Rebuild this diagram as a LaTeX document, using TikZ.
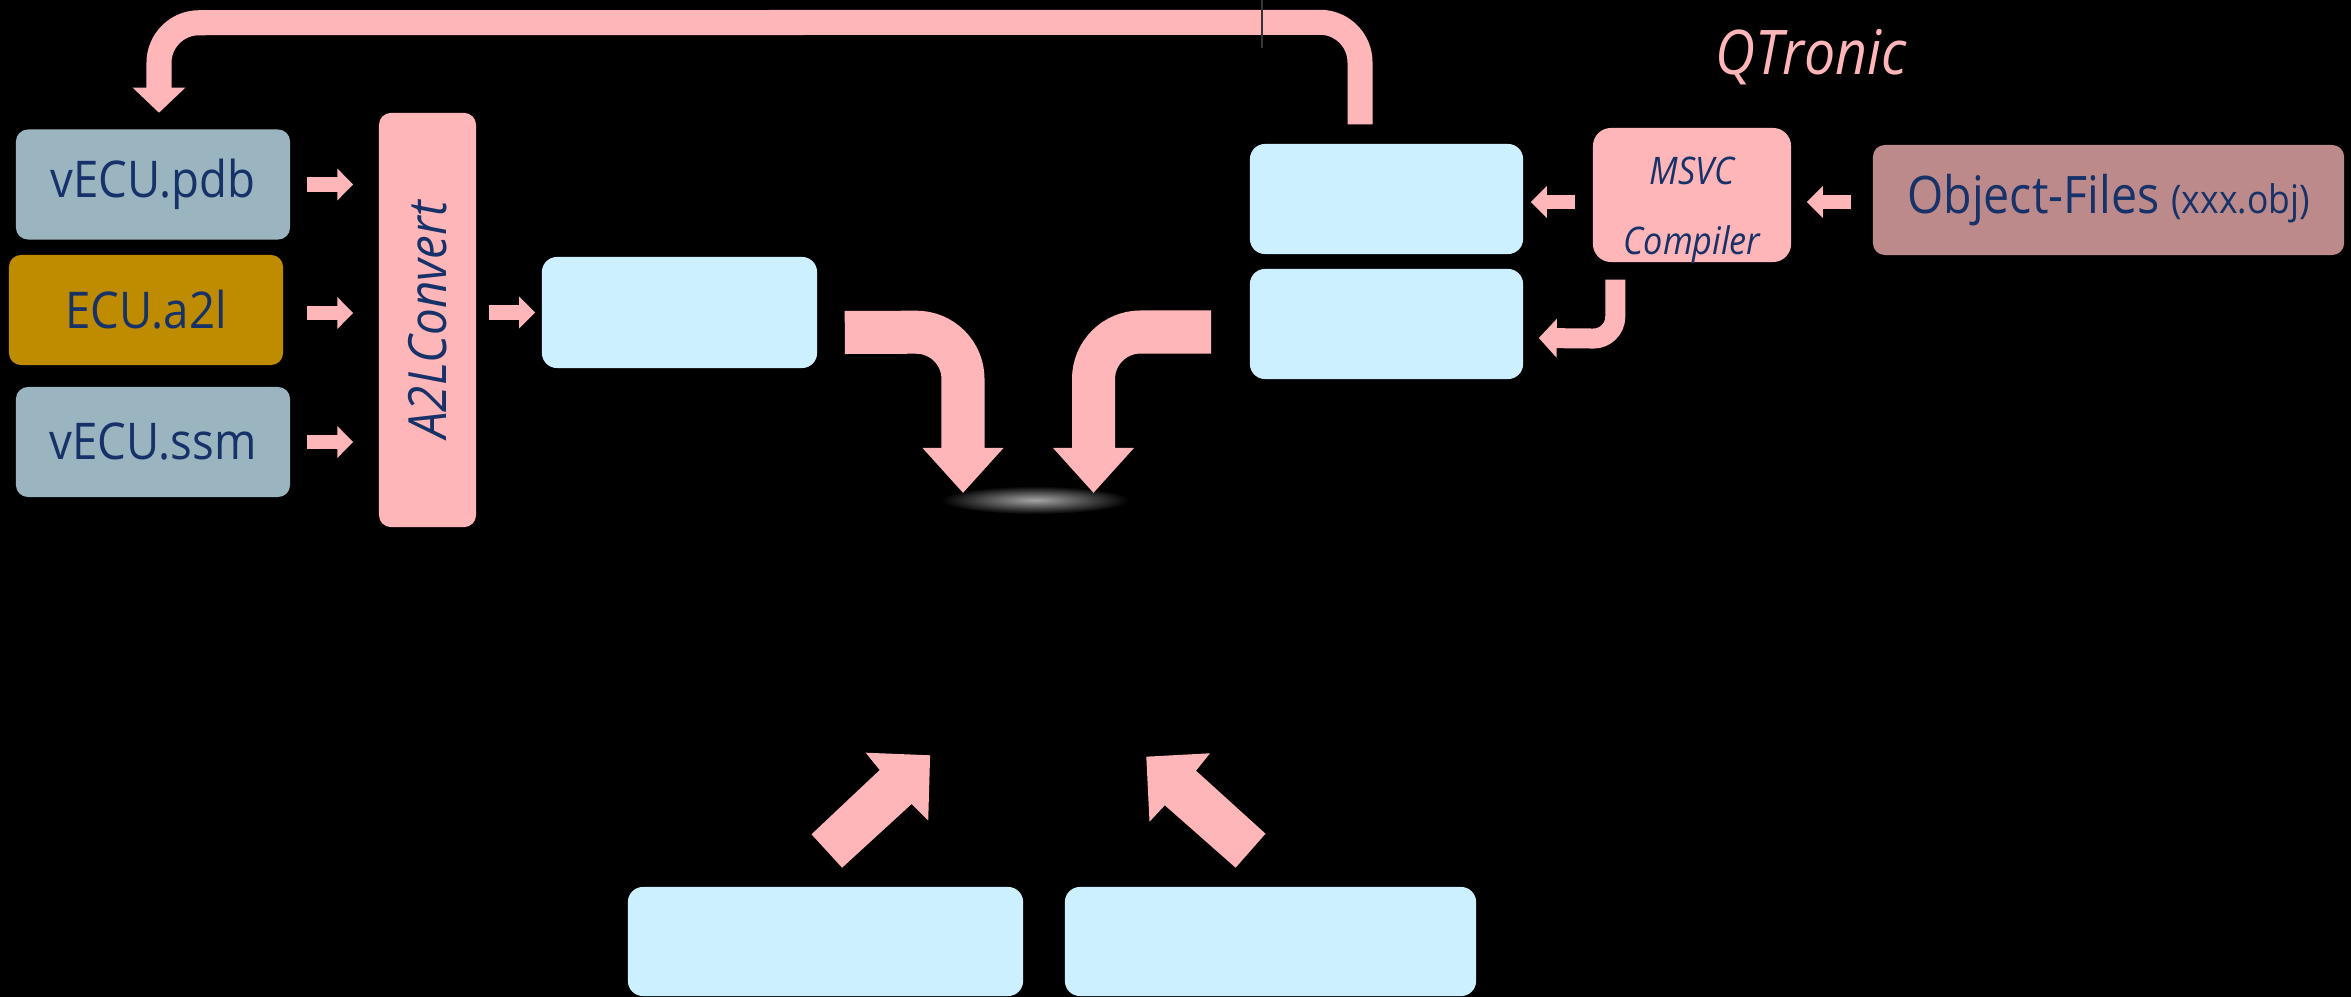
\documentclass[tikz,border=0pt]{standalone}
\usepackage{fontspec}
\setmainfont[FakeStretch=0.9]{Open Sans}
\usetikzlibrary{arrows.meta,calc,shapes.geometric}
\definecolor{pk}{RGB}{255,182,185}
\definecolor{lb}{RGB}{204,240,255}
\definecolor{gb}{RGB}{154,181,192}
\definecolor{gd}{RGB}{191,140,0}
\definecolor{rb}{RGB}{188,138,138}
\definecolor{nv}{RGB}{22,50,105}
\begin{document}
\begin{tikzpicture}[x=0.01cm,y=-0.01cm,
  box/.style={rectangle, rounded corners=0.12cm, inner sep=0pt, text=nv},
  filebox/.style={box, minimum width=2.74cm, minimum height=1.1cm, font=\fontsize{14.4}{16}\selectfont},
  bluebox/.style={box, fill=lb, rounded corners=0.15cm},
  sarrow/.style={pk, line width=0.145cm, -{Triangle[width=0.31cm,length=0.16cm]}},
  marrow/.style={pk, line width=0.2cm, rounded corners=0.22cm, -{Triangle[width=0.38cm,length=0.18cm]}},
  barrow/.style={pk, line width=0.43cm, rounded corners=0.47cm, -{Triangle[width=0.78cm,length=0.45cm]}},
  farrow/.style={pk, line width=0.25cm, rounded corners=0.4cm, -{Triangle[width=0.51cm,length=0.25cm]}}
]
\fill[black] (0,0) rectangle (2351,997);
\useasboundingbox (0,0) rectangle (2351,997);

% left file boxes
\node[filebox, fill=gb] (pdb) at (153,184.5) {vECU.pdb};
\node[filebox, fill=gd] (a2l) at (146,310) {ECU.a2l};
\node[filebox, fill=gb] (ssm) at (153,442) {vECU.ssm};

% A2LConvert bar
\node[box, fill=pk, minimum width=0.97cm, minimum height=4.14cm] (conv) at (427.5,320) {};
\node[text=nv, rotate=90, font=\fontsize{15}{18}\selectfont\itshape] (convt) at (conv.center) {A2LConvert};

% blue boxes
\node[bluebox, minimum width=2.75cm, minimum height=1.11cm] (b1) at (679.5,312.5) {};
\node[bluebox, minimum width=2.73cm, minimum height=1.1cm] (bt) at (1386.5,199) {};
\node[bluebox, minimum width=2.73cm, minimum height=1.1cm] (bb) at (1386.5,324) {};
\node[bluebox, minimum width=3.95cm, minimum height=1.09cm] (bl1) at (825.5,941.5) {};
\node[bluebox, minimum width=4.11cm, minimum height=1.09cm] (bl2) at (1270.5,941.5) {};

% MSVC compiler
\node[box, fill=pk, rounded corners=0.18cm, minimum width=1.98cm, minimum height=1.34cm] (msvc) at (1692,195) {};
\node[text=nv, align=center, font=\fontsize{10.8}{20}\selectfont\itshape] (msvct) at (1692,210) {MSVC\\Compiler};

% object files
\node[box, fill=rb, minimum width=4.71cm, minimum height=1.1cm, font=\fontsize{14.7}{17}\selectfont] (obj) at (2108.5,200) {Object-Files {\fontsize{11.2}{13}\selectfont (xxx.obj)}};

% QTronic
\node[text=pk, font=\fontsize{17.5}{20}\selectfont\itshape] (qt) at (1811,57) {QTronic};

% blob
\shade[inner color=gray!70, outer color=black] (1035,500) ellipse [x radius=0.94cm, y radius=0.14cm];
\coordinate (blob) at (1035,500);

% small arrows
\draw[sarrow] ($(pdb.east)+(16,0)$) -- ($(conv.west|-pdb.east)+(-25,0)$);
\draw[sarrow] ($(a2l.east)+(23,3)$) -- ($(conv.west|-a2l.east)+(-25,3)$);
\draw[sarrow] ($(ssm.east)+(16,0)$) -- ($(conv.west|-ssm.east)+(-25,0)$);
\draw[sarrow] ($(conv.east|-b1.west)+(12,0)$) -- ($(b1.west)+(-6,0)$);
\draw[sarrow] ($(obj.west)+(-21,2)$) -- ($(msvc.east|-obj.west)+(15,2)$);
\draw[sarrow] ($(msvc.west|-obj.west)+(-17,2)$) -- ($(bt.east|-obj.west)+(7,2)$);

% MSVC to lower box
\draw[marrow] ($(msvc.south west)+(23,17)$) -- ($(msvc.south west)+(23,76)$) -- ($(bb.east)+(15,14)$);

% bent arrows into the centre
\draw[barrow] ($(b1.east)+(27,20)$) -- ($(blob)+(-72,-168)$) -- ($(blob)+(-72,-7)$);
\draw[barrow] ($(bb.west)+(-38,8)$) -- ($(blob)+(58.5,-168)$) -- ($(blob)+(58.5,-7)$);

% feedback arrow
\draw[farrow] ($(bt.north)+(-26.5,-19)$) -- ($(bt.north)+(-26.5,-121)$) -- ($(pdb.north)+(6,-106)$) -- ($(pdb.north)+(6,-16)$);
\draw[gray!40!black, line width=0.02cm] (1262,0) -- (1262,48);

% diagonal arrows from the bottom boxes
\fill[pk] (811.5,834.3) -- (879.7,770) -- (865.7,752.7) -- (930.1,755.3) -- (928.2,820.7) -- (911.6,804) -- (842.1,867.7) -- cycle;
\fill[pk] (1265.5,833.7) -- (1196,770.7) -- (1210,753.3) -- (1146.3,756.7) -- (1149.5,821.7) -- (1164.8,805.3) -- (1235.6,867.7) -- cycle;
\end{tikzpicture}
\end{document}
